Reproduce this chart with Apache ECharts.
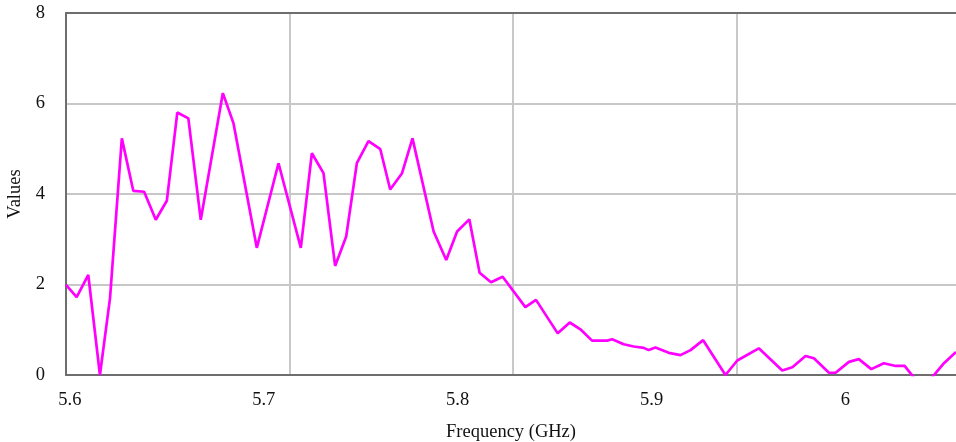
<!DOCTYPE html>
<html>
<head>
<meta charset="utf-8">
<title>Frequency response</title>
<script src="https://cdn.jsdelivr.net/npm/echarts@6/dist/echarts.min.js"></script>
<style>
    html, body { margin: 0; padding: 0; background: #fff; }
    #chart { width: 956px; height: 442px; }
</style>
</head>
<body>
<div id="chart"></div>
<script>
// frequency (GHz) of each vertex, read against the tick labels
var freqs = [
    5.598, 5.6035, 5.6095, 5.6155, 5.6207, 5.6268, 5.6327, 5.6383, 5.6443, 5.650,
    5.6554, 5.6611, 5.6675, 5.6789, 5.6844, 5.6964, 5.7076, 5.7191, 5.7248, 5.7308,
    5.7368, 5.7425, 5.748, 5.754, 5.7601, 5.7652, 5.7713, 5.7767, 5.7876, 5.7941,
    5.7997, 5.806, 5.8113, 5.8172, 5.8232, 5.8349, 5.8404, 5.8516, 5.8578, 5.8633,
    5.8693, 5.8771, 5.8797, 5.8856, 5.8908, 5.896, 5.8985, 5.902, 5.9089, 5.9149,
    5.9201, 5.9266, 5.9381, 5.9442, 5.9553, 5.9674, 5.9726, 5.9794, 5.9837, 5.9915,
    5.9949, 6.0018, 6.0069, 6.0133, 6.0198, 6.0259, 6.0305, 6.0398, 6.0508, 6.057
];
var values = [
    1.99, 1.72, 2.21, 0, 1.7, 5.23, 4.07, 4.05, 3.43, 3.85,
    5.80, 5.67, 3.43, 6.23, 5.56, 2.81, 4.68, 2.81, 4.90, 4.46,
    2.41, 3.06, 4.68, 5.17, 4.99, 4.10, 4.46, 5.23, 3.17, 2.54,
    3.17, 3.44, 2.26, 2.05, 2.17, 1.50, 1.66, 0.92, 1.16, 1.01,
    0.76, 0.76, 0.79, 0.68, 0.63, 0.60, 0.55, 0.61, 0.49, 0.44,
    0.55, 0.77, 0, 0.32, 0.59, 0.10, 0.17, 0.42, 0.37, 0.05,
    0.05, 0.29, 0.35, 0.13, 0.26, 0.20, 0.20, -0.3, 0.26, 0.51
];
var xTickLabels = [5.6, 5.7, 5.8, 5.9, 6];
var yTicks = [0, 2, 4, 6, 8];

var myChart = echarts.init(document.getElementById('chart'));

var points = [];
for (var i = 0; i < freqs.length; i++) {
    points.push([freqs[i], values[i]]);
}

var font = 'Liberation Serif';
var axisColor = '#6e6e6e';

option = {
    backgroundColor: '#fff',
    animation: false,
    grid: {
        left: 66,
        right: 0,
        top: 13,
        bottom: 67,
        outerBoundsMode: 'none'
    },
    xAxis: [{
        // labelled axis at the bottom
        type: 'value',
        position: 'bottom',
        min: 5.598,
        max: 6.057,
        name: 'Frequency (GHz)',
        nameLocation: 'middle',
        nameGap: 48,
        nameTextStyle: { color: '#111', fontFamily: font, fontSize: 18.5 },
        axisLine: { show: true, lineStyle: { color: axisColor, width: 2 } },
        axisTick: { show: false },
        splitLine: { show: false },
        axisLabel: {
            customValues: xTickLabels,
            margin: 16,
            color: '#111',
            fontFamily: font,
            fontSize: 18.5,
            formatter: function (v) { return String(v); }
        }
    }, {
        // grid lines + top border
        type: 'value',
        position: 'top',
        min: 5.6,
        max: 5.998,
        interval: 0.1,
        axisLine: { show: true, lineStyle: { color: axisColor, width: 2 } },
        axisTick: { show: false },
        axisLabel: { show: false },
        splitLine: {
            show: true,
            showMinLine: false,
            showMaxLine: false,
            lineStyle: { color: '#c8c8c8', width: 2 }
        }
    }],
    yAxis: [{
        type: 'value',
        min: yTicks[0],
        max: yTicks[yTicks.length - 1],
        interval: 2,
        name: 'Values',
        nameLocation: 'middle',
        nameGap: 38,
        nameTextStyle: { color: '#111', fontFamily: font, fontSize: 18.5 },
        axisLine: { show: true, lineStyle: { color: axisColor, width: 2 } },
        axisTick: { show: false },
        axisLabel: {
            margin: 21,
            color: '#111',
            fontFamily: font,
            fontSize: 18.5,
            padding: [4, 0, 0, 0]
        },
        splitLine: {
            show: true,
            lineStyle: { color: '#b4b4b4', width: 1.5 }
        }
    }],
    series: [{
        type: 'line',
        xAxisIndex: 0,
        data: points,
        symbol: 'none',
        clip: true,
        lineStyle: { color: '#ff00ff', width: 2.7 }
    }]
};

myChart.setOption(option);
window.addEventListener("resize", function () {
    myChart.resize();
});
</script>
</body>
</html>
